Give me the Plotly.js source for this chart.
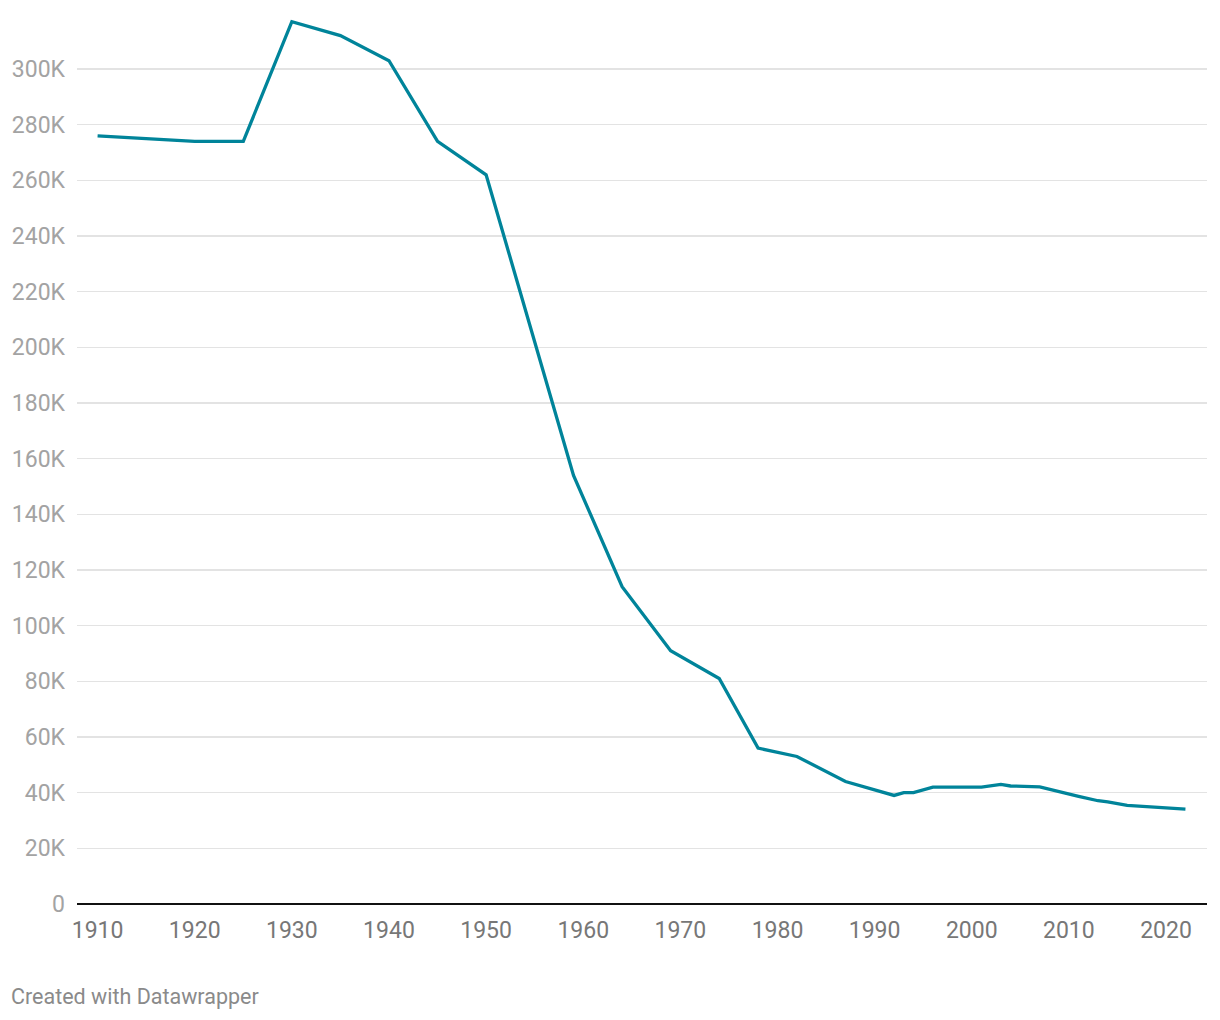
<!DOCTYPE html>
<html>
<head>
<meta charset="utf-8">
<script src="https://cdn.plot.ly/plotly-3.0.1.min.js"></script>
<style>
  html, body { margin: 0; padding: 0; background: #fff; }
  #chart { width: 1220px; height: 1020px; }
</style>
</head>
<body>
<div id="chart"></div>
<script>
const years = [1910, 1920, 1925, 1930, 1935, 1940, 1945, 1950, 1959, 1964, 1969, 1974, 1978, 1982, 1987,
  1992, 1993, 1994, 1996, 2001, 2003, 2004, 2007, 2008, 2009, 2011, 2013, 2014, 2016, 2018, 2020, 2022];
const values = [276000, 274000, 274000, 317000, 312000, 303000, 274000, 262000, 154000, 114000, 91000, 81000, 56000, 53000, 44000,
  39000, 40000, 40000, 42000, 42000, 43000, 42400, 42100, 41200, 40400, 38700, 37100, 36700, 35400, 34900, 34600, 34100];

const yTickVals = [0, 20000, 40000, 60000, 80000, 100000, 120000, 140000, 160000, 180000, 200000, 220000, 240000, 260000, 280000, 300000];
const yTickText = ["0", "20K", "40K", "60K", "80K", "100K", "120K", "140K", "160K", "180K", "200K", "220K", "240K", "260K", "280K", "300K"];
const xTickVals = [1910, 1920, 1930, 1940, 1950, 1960, 1970, 1980, 1990, 2000, 2010, 2020];
const xTickText = ["1910", "1920", "1930", "1940", "1950", "1960", "1970", "1980", "1990", "2000", "2010", "2020"];
const footer = "Created with Datawrapper";

const trace = {
  x: years,
  y: values,
  type: 'scatter',
  mode: 'lines',
  line: { color: '#00849a', width: 3.3 },
  hoverinfo: 'x+y'
};

const layout = {
  width: 1220,
  height: 1020,
  margin: { l: 77, r: 13, t: 10, b: 116 },
  paper_bgcolor: '#ffffff',
  plot_bgcolor: '#ffffff',
  font: { family: 'Roboto, sans-serif' },
  showlegend: false,
  xaxis: {
    range: [1907.88, 2024.22],
    tickvals: xTickVals,
    ticktext: xTickText,
    showgrid: false,
    zeroline: false,
    showline: false,
    ticks: '',
    ticklabelstandoff: 10,
    tickfont: { family: 'Roboto, sans-serif', size: 23, color: '#777777' },
    fixedrange: true
  },
  yaxis: {
    range: [0, 321200],
    tickvals: yTickVals,
    ticktext: yTickText,
    showgrid: true,
    gridcolor: '#e3e3e3',
    gridwidth: 1.5,
    zeroline: true,
    zerolinecolor: '#111111',
    zerolinewidth: 2,
    showline: false,
    ticks: '',
    ticklabelstandoff: 11,
    tickfont: { family: 'Roboto, sans-serif', size: 23, color: '#a3a3a3' },
    fixedrange: true
  },
  annotations: [{
    text: footer,
    xref: 'paper', yref: 'paper',
    x: -0.0602, y: -0.104,
    xanchor: 'left', yanchor: 'middle',
    showarrow: false,
    font: { family: 'Roboto, sans-serif', size: 21.5, color: '#8a8a8a' }
  }]
};

Plotly.newPlot('chart', [trace], layout, { displayModeBar: false, staticPlot: true });
</script>
</body>
</html>
